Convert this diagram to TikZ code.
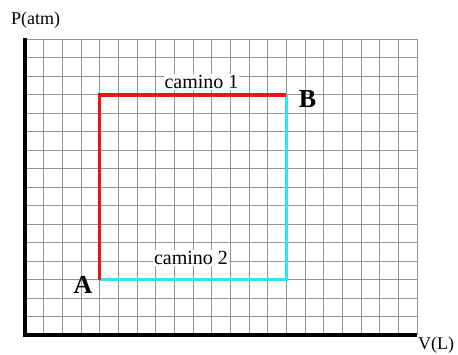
\documentclass[tikz,border=0pt]{standalone}
\usepackage{fontspec}
\setmainfont{Liberation Serif}
\definecolor{gridgray}{RGB}{150,150,150}
\definecolor{pathred}{RGB}{235,20,20}
\definecolor{pathcyan}{RGB}{40,232,240}
\begin{document}
\begin{tikzpicture}[x=1pt,y=1pt,
  gridline/.style={draw=gridgray,line width=0.9pt},
  axisline/.style={draw=black,line width=4pt},
  redpath/.style={draw=pathred,line width=3.6pt},
  cyanpath/.style={draw=pathcyan,line width=3.6pt},
  pathlabel/.style={fill=white,inner sep=1pt,font=\fontsize{20}{22}\selectfont},
  pointlabel/.style={inner sep=0pt,font=\fontsize{26}{28}\selectfont\bfseries},
  axislabel/.style={inner sep=0pt,anchor=west,font=\fontsize{18}{20}\selectfont}]
\useasboundingbox (0,0) rectangle (458,354);
\begin{scope}[shift={(25,19)},x=18.667pt,y=18.48pt]
  \foreach \i in {1,...,21} \draw[gridline] (\i,0) -- (\i,16);
  \foreach \j in {1,...,16} \draw[gridline] (0,\j) -- (21,\j);
  \coordinate (origin) at (0,0);
  \coordinate (ytop) at (0,16.05);
  \coordinate (xend) at (21,0);
  \coordinate (pA) at (4,3);
  \coordinate (pB) at (14,13);
\end{scope}
\draw[axisline] (ytop) -- (origin) -- (xend);
\draw[cyanpath] (pA) -| (pB);
\draw[redpath] (pA) |- (pB);
\node[pathlabel] (c1) at (201.5,272) {camino 1};
\node[pathlabel] (c2) at (191,96) {camino 2};
\node[pointlabel] (A) at (83,69) {A};
\node[pointlabel] (B) at (307.5,255) {B};
\node[axislabel] (P) at (11,334) {P(atm)};
\node[axislabel] (V) at (418,8.5) {V(L)};
\end{tikzpicture}
\end{document}
